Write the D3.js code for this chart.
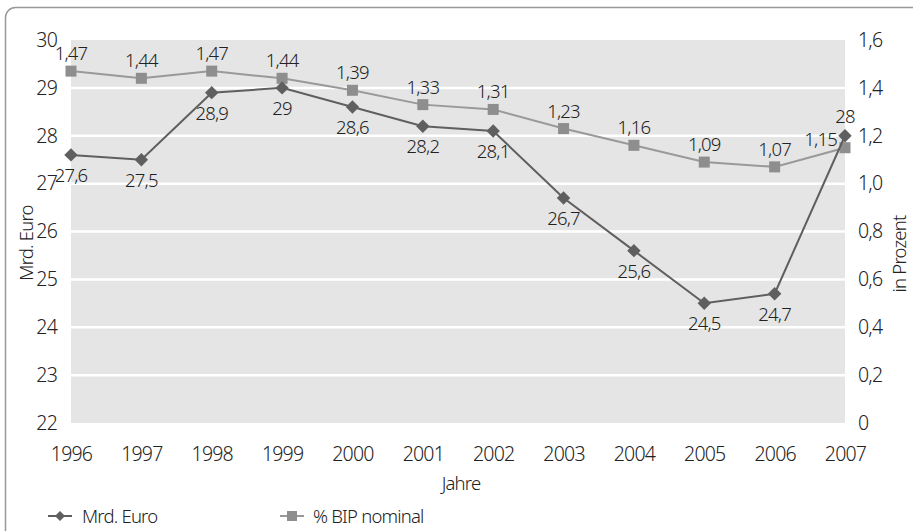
<!DOCTYPE html>
<html><head><meta charset="utf-8">
<script src="https://cdn.jsdelivr.net/npm/d3@7"></script>
<style>
body{margin:0;background:#fff;}
text{font-family:"Noto Sans","Open Sans",sans-serif;font-weight:300;letter-spacing:-0.8px;fill:#222;}
</style></head>
<body><svg id="c" width="913" height="531"></svg>
<script>
const years = ["1996","1997","1998","1999","2000","2001","2002","2003","2004","2005","2006","2007"];
const mrdEuro = [27.6,27.5,28.9,29,28.6,28.2,28.1,26.7,25.6,24.5,24.7,28];
const bipPct = [1.47,1.44,1.47,1.44,1.39,1.33,1.31,1.23,1.16,1.09,1.07,1.15];
const leftTicks = [22,23,24,25,26,27,28,29,30];
const rightTicks = [0,0.2,0.4,0.6,0.8,1.0,1.2,1.4,1.6];
const seriesNames = ["Mrd. Euro","% BIP nominal"];

const svg = d3.select("#c");
const L=71, R=845, T=40, B=423;
const fs = 19.5;
const x = d3.scalePoint().domain(years).range([L,R]);
const yL = d3.scaleLinear().domain([22,30]).range([B,T]);
const yR = d3.scaleLinear().domain([0,1.6]).range([B,T]);
const fmt = v => String(v).replace(".",",");
const fmtR = v => v===0 ? "0" : d3.format(".1f")(v).replace(".",",");

svg.append("rect").attr("x",5.5).attr("y",7.5).attr("width",930).attr("height",540)
  .attr("rx",10).attr("fill","none").attr("stroke","#999").attr("stroke-width",1.5);

svg.append("rect").attr("x",L).attr("y",T).attr("width",R-L).attr("height",B-T).attr("fill","#e5e5e5");
svg.append("g").selectAll("line").data(leftTicks.filter(d=>d>22&&d<30)).join("line")
  .attr("x1",L).attr("x2",R).attr("y1",d=>yL(d)).attr("y2",d=>yL(d))
  .attr("stroke","#fff").attr("stroke-width",2.5);

const gl = svg.append("g").attr("transform",`translate(${L},0)`)
  .call(d3.axisLeft(yL).tickValues(leftTicks).tickSize(0).tickPadding(14).tickFormat(d=>d));
gl.select(".domain").remove();
gl.selectAll("text").attr("font-size",fs).attr("font-family",null);
const gr = svg.append("g").attr("transform",`translate(${R},0)`)
  .call(d3.axisRight(yR).tickValues(rightTicks).tickSize(0).tickPadding(13).tickFormat(fmtR));
gr.select(".domain").remove();
gr.selectAll("text").attr("font-size",fs).attr("font-family",null);
const gb = svg.append("g").attr("transform",`translate(0,${B})`)
  .call(d3.axisBottom(x).tickSize(0).tickPadding(24));
gb.select(".domain").remove();
gb.selectAll("text").attr("font-size",fs).attr("font-family",null);

svg.append("text").attr("transform","translate(33,243) rotate(-90)").attr("text-anchor","middle")
  .attr("font-size",fs-1).text("Mrd. Euro");
svg.append("text").attr("transform","translate(906,254) rotate(-90)").attr("text-anchor","middle")
  .attr("font-size",fs-1).text("in Prozent");
svg.append("text").attr("x",461).attr("y",490).attr("text-anchor","middle")
  .attr("font-size",fs-1).text("Jahre");

const colMrd="#5f5f5f", colBip="#999999", colSq="#8e8e8e";

svg.append("path").datum(bipPct)
  .attr("d",d3.line().x((d,i)=>x(years[i])).y(d=>yR(d)))
  .attr("fill","none").attr("stroke",colBip).attr("stroke-width",2);
svg.append("g").selectAll("rect").data(bipPct).join("rect")
  .attr("x",(d,i)=>x(years[i])-5.5).attr("y",d=>yR(d)-5.5).attr("width",11).attr("height",11)
  .attr("fill",colSq);
svg.append("path").datum(mrdEuro)
  .attr("d",d3.line().x((d,i)=>x(years[i])).y(d=>yL(d)))
  .attr("fill","none").attr("stroke",colMrd).attr("stroke-width",2);
svg.append("g").selectAll("path").data(mrdEuro).join("path")
  .attr("transform",(d,i)=>`translate(${x(years[i])},${yL(d)}) rotate(45)`)
  .attr("d",d3.symbol().type(d3.symbolSquare).size(90)).attr("fill",colMrd);

svg.append("g").selectAll("text").data(bipPct).join("text")
  .attr("x",(d,i)=> i===years.length-1 ? x(years[i])-8 : x(years[i]))
  .attr("y",(d,i)=> i===years.length-1 ? yR(d)-2 : yR(d)-11)
  .attr("text-anchor",(d,i)=> i===years.length-1 ? "end" : "middle")
  .attr("font-size",fs-1).text(fmt);
svg.append("g").selectAll("text").data(mrdEuro).join("text")
  .attr("x",(d,i)=>x(years[i]))
  .attr("y",(d,i)=> i===years.length-1 ? yL(d)-13 : yL(d)+27)
  .attr("text-anchor","middle")
  .attr("font-size",fs-1).text(fmt);

const lg = svg.append("g");
lg.append("line").attr("x1",48).attr("x2",72).attr("y1",516).attr("y2",516).attr("stroke",colMrd).attr("stroke-width",2);
lg.append("path").attr("transform","translate(60,516) rotate(45)").attr("d",d3.symbol().type(d3.symbolSquare).size(50)).attr("fill",colMrd);
lg.append("text").attr("x",82).attr("y",523).attr("font-size",fs-1).text(seriesNames[0]);
lg.append("line").attr("x1",280).attr("x2",304).attr("y1",516).attr("y2",516).attr("stroke",colBip).attr("stroke-width",2);
lg.append("rect").attr("x",287).attr("y",511).attr("width",10).attr("height",10).attr("fill",colSq);
lg.append("text").attr("x",313).attr("y",523).attr("font-size",fs-1).text(seriesNames[1]);
</script></body></html>
